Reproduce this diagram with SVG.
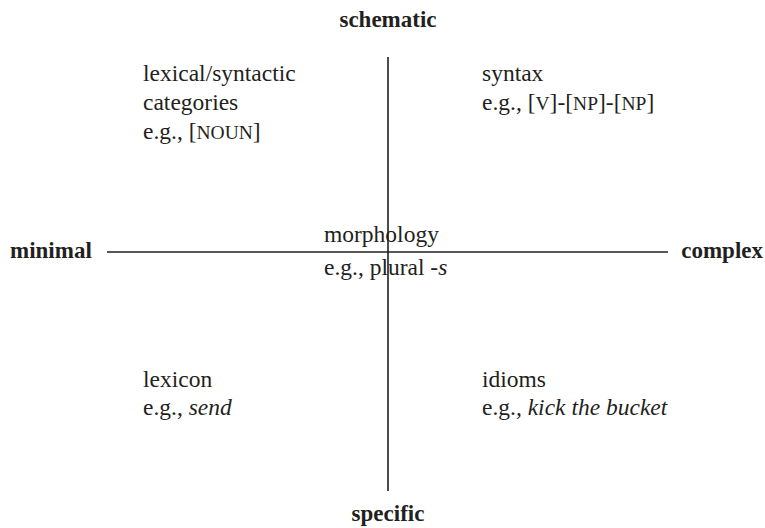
<svg xmlns="http://www.w3.org/2000/svg" width="765" height="528" viewBox="0 0 765 528">
  <style>
    text { font-family: "Liberation Serif", "Times New Roman", serif; font-size: 23.5px; fill: #231f20; }
    .pole { font-weight: bold; font-size: 23px; }
    .sc { font-size: 19.5px; }
    .axis { stroke: #231f20; stroke-width: 1.6; fill: none; }
  </style>
  <rect width="765" height="528" fill="#ffffff"/>
  <g id="axes">
    <line class="axis" x1="388" y1="57" x2="388" y2="491"/>
    <line class="axis" x1="107" y1="252" x2="668" y2="252"/>
  </g>
  <g id="pole-schematic"><text class="pole" x="388" y="27" text-anchor="middle">schematic</text></g>
  <g id="pole-specific"><text class="pole" x="388" y="521" text-anchor="middle">specific</text></g>
  <g id="pole-minimal"><text class="pole" x="10" y="258">minimal</text></g>
  <g id="pole-complex"><text class="pole" x="763" y="258" text-anchor="end">complex</text></g>
  <g id="categories">
    <text x="143" y="81">lexical/syntactic</text>
    <text x="143" y="110">categories</text>
    <text x="143" y="139">e.g., [<tspan class="sc">NOUN</tspan>]</text>
  </g>
  <g id="syntax">
    <text x="482" y="81">syntax</text>
    <text x="482" y="110">e.g., [<tspan class="sc">V</tspan>]-[<tspan class="sc">NP</tspan>]-[<tspan class="sc">NP</tspan>]</text>
  </g>
  <g id="morphology">
    <text x="324" y="242">morphology</text>
    <text x="324" y="275">e.g., plural -<tspan font-style="italic">s</tspan></text>
  </g>
  <g id="lexicon">
    <text x="143" y="387">lexicon</text>
    <text x="143" y="415">e.g., <tspan font-style="italic">send</tspan></text>
  </g>
  <g id="idioms">
    <text x="482" y="387">idioms</text>
    <text x="482" y="415">e.g.<tspan font-style="italic">, kick the bucket</tspan></text>
  </g>
</svg>
